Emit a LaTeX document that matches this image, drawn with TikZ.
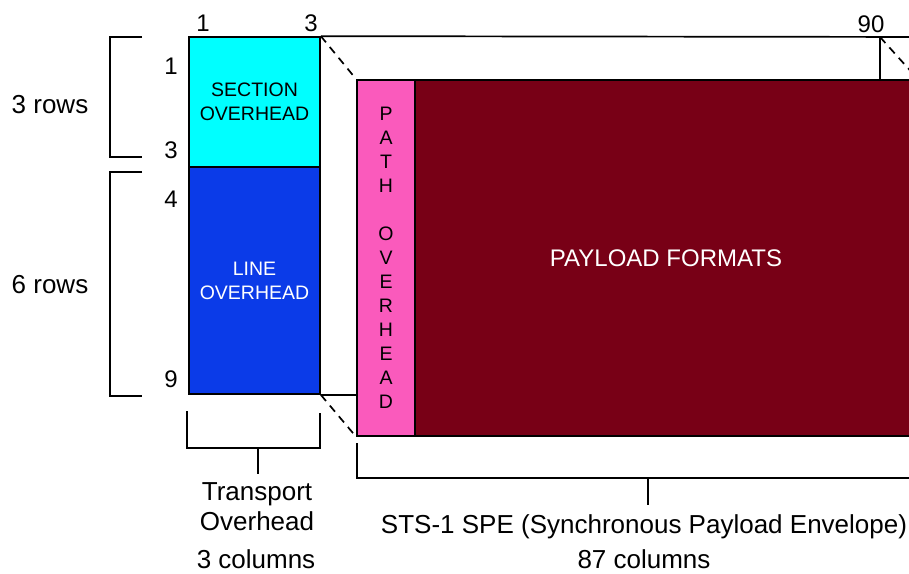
\documentclass[tikz,border=0pt]{standalone}
\usepackage{fontspec}
\setmainfont{Liberation Sans}
\usetikzlibrary{positioning}
\definecolor{sohcol}{RGB}{0,255,255}
\definecolor{lohcol}{RGB}{11,59,232}
\definecolor{pohcol}{RGB}{250,90,188}
\definecolor{paycol}{RGB}{120,0,22}
\begin{document}
\begin{tikzpicture}[x=1pt,y=-1pt,
  blk/.style={draw=black, line width=1.7pt, inner sep=0pt, align=center,
    font=\fontsize{19.5}{24}\selectfont},
  num/.style={inner sep=0pt, anchor=base, font=\fontsize{24}{24}\selectfont},
  lbl/.style={inner sep=0pt, align=center, font=\fontsize{26}{30}\selectfont},
  brace/.style={line width=1.7pt},
  fold/.style={line width=1.7pt, dash pattern=on 8pt off 6pt}]
\useasboundingbox (0,0) rectangle (909,573);
% transport overhead
\node[blk, fill=sohcol, minimum width=131, minimum height=130] (soh) at (254.5,102) {SECTION\\OVERHEAD};
\node[blk, fill=lohcol, text=white, minimum width=131, minimum height=227] (loh) at (254.5,280.5) {LINE\\OVERHEAD};
% envelope
\node[blk, fill=pohcol, minimum width=58, minimum height=356] (poh) at (386,258) {P\\A\\T\\H\\[24pt]O\\V\\E\\R\\H\\E\\A\\D};
\node[blk, fill=paycol, text=white, minimum width=502, minimum height=356,
  font=\fontsize{24}{24}\selectfont] (pay) at (666,258) {PAYLOAD FORMATS};
\coordinate (c90) at (880,37);
\path[draw,line width=1.7pt] (soh.north east) -- (940,37);
\path[draw,line width=1.7pt] (c90) -- (c90 |- pay.north);
\path[draw,line width=1.7pt] (loh.south east) -- (poh.south west |- loh.south east);
\path[draw,fold] (soh.north east) -- (poh.north west);
\path[draw,fold] (loh.south east) -- (poh.south west);
\path[draw,fold] (c90) -- (pay.north east);
% column and row numbers
\node[num] (col1) at (203,31) {1};
\node[num] (col3) at (311,31) {3};
\node[num] (col90) at (871,32) {90};
\node[num] (row1) at (171,74) {1};
\node[num] (row3) at (171,158) {3};
\node[num] (row4) at (171,207) {4};
\node[num] (row9) at (171,387) {9};
% row brackets
\path[draw,brace] (142,37) -- (110,37) -- (110,157) -- (142,157);
\path[draw,brace] (142,172) -- (110,172) -- (110,396) -- (142,396);
\node[lbl, anchor=base] (r3) at (50,113) {3 rows};
\node[lbl, anchor=base] (r6) at (50,293) {6 rows};
% column brackets
\path[draw,brace] (187,411) -- (187,448) -- (320,448) -- (320,413);
\path[draw,brace] (258,448) -- (258,474);
\path[draw,brace] (357,443) -- (357,478) -- (940,478);
\path[draw,brace] (648,478) -- (648,505);
\node[lbl] (toh) at (257,507) {Transport\\Overhead};
\node[lbl, anchor=base] (tcols) at (256,568) {3 columns};
\node[lbl, anchor=base] (spe) at (644,533) {STS-1 SPE (Synchronous Payload Envelope)};
\node[lbl, anchor=base] (scols) at (644,568) {87 columns};
\end{tikzpicture}
\end{document}
